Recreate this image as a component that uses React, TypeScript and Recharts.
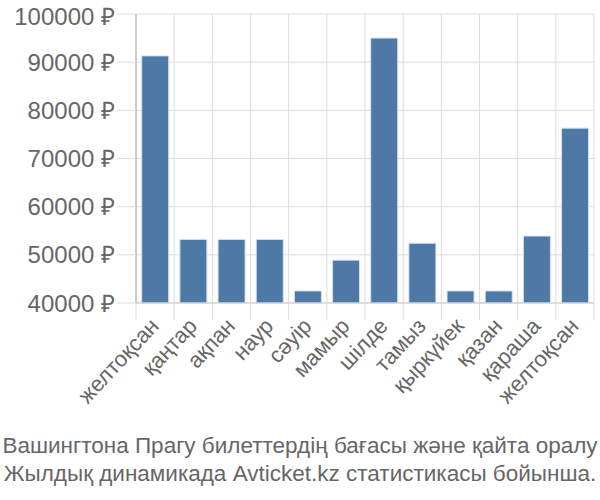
import { BarChart, Bar, XAxis, YAxis, CartesianGrid } from 'recharts';

const months = ['желтоқсан', 'қаңтар', 'ақпан', 'наур', 'сәуір', 'мамыр', 'шілде', 'тамыз', 'қыркүйек', 'қазан', 'қараша', 'желтоқсан'];
const prices = [91300, 53200, 53200, 53200, 42500, 48900, 95000, 52400, 42500, 42500, 53900, 76300];
const yTicks = [40000, 50000, 60000, 70000, 80000, 90000, 100000];
const titleLines = [
  'Вашингтона Прагу билеттердің бағасы және қайта оралу',
  'Жылдық динамикада Avticket.kz статистикасы бойынша.',
];

const data = months.map((m, i) => ({ month: m, price: prices[i] }));

const FONT = '"Liberation Sans", Arial, sans-serif';
const GRID = '#dddddd';
const TEXT = '#666666';

const W = 600;
const H = 440;
const M = { top: 14, right: 6, left: 0, bottom: 0 };
const Y_W = 136;
const BAND = (W - M.left - M.right - Y_W) / months.length;

const XTick = (props: any) => {
  const { x, y, payload, index } = props;
  const tx = x + 5;
  const ty = y + 24;
  return (
    <g>
      <line x1={x - BAND / 2} x2={x - BAND / 2} y1={y} y2={y + 17} stroke={GRID} />
      {index === months.length - 1 && (
        <line x1={x + BAND / 2} x2={x + BAND / 2} y1={y} y2={y + 17} stroke={GRID} />
      )}
      <text
        x={tx}
        y={ty}
        transform={`rotate(-47 ${tx} ${ty})`}
        textAnchor="end"
        fontSize={22}
        fill={TEXT}
        fontFamily={FONT}
      >
        {payload.value}
      </text>
    </g>
  );
};

export default function App() {
  return (
    <div style={{ position: 'absolute', left: 0, top: 0, width: 600, height: 500, background: '#fff', fontFamily: FONT }}>
      <BarChart width={W} height={H} data={data} margin={M} barCategoryGap="15%">
        <CartesianGrid
          stroke={GRID}
          verticalCoordinatesGenerator={({ offset }: any) =>
            Array.from({ length: months.length + 1 }, (_, i) => offset.left + (i * offset.width) / months.length)
          }
        />
        <XAxis
          dataKey="month"
          height={H - 303 - M.bottom}
          tickSize={0}
          tickMargin={0}
          tickLine={false}
          interval={0}
          stroke="#cccccc"
          tick={<XTick />}
        />
        <YAxis
          width={Y_W}
          domain={[40000, 100000]}
          ticks={yTicks}
          allowDataOverflow
          tickFormatter={(v: number) => `${v} ₽`}
          tickSize={19}
          tickMargin={2}
          tickLine={{ stroke: GRID }}
          axisLine={{ stroke: '#aaaaaa' }}
          tick={{ fontSize: 24, fill: TEXT, fontFamily: FONT }}
        />
        <Bar dataKey="price" fill="#4e78a6" stroke="#d5e0ec" strokeWidth={1} isAnimationActive={false} />
      </BarChart>
      <div
        style={{
          position: 'absolute',
          left: 0,
          top: 432,
          width: 600,
          textAlign: 'center',
          fontSize: 22.5,
          lineHeight: '28px',
          color: TEXT,
          whiteSpace: 'nowrap',
        }}
      >
        {titleLines.map((t, i) => (
          <div key={i}>{t}</div>
        ))}
      </div>
    </div>
  );
}
